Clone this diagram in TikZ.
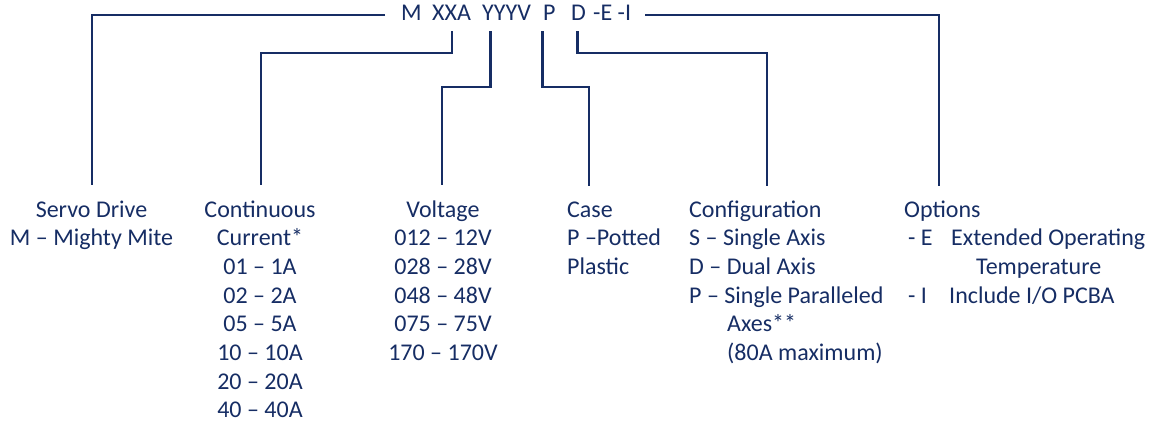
\documentclass[tikz,border=0pt]{standalone}
\usepackage{fontspec}
\setmainfont{Carlito}
\newcommand\diafont{\fontsize{24}{28.7}\selectfont}
\definecolor{navy}{RGB}{22,45,100}
\tikzset{
  lbl/.style={anchor=base, inner sep=0pt, text=navy, font=\diafont},
  lblL/.style={anchor=base west, inner sep=0pt, text=navy, font=\diafont},
  conn/.style={draw=navy, line width=2.2pt, line join=miter},
}
\begin{document}
\begin{tikzpicture}[x=1pt,y=-1pt]
\useasboundingbox (0,0) rectangle (1160,425);
% code
\node[lblL] (M) at (401,21) {M};
\node[lblL] (XXA) at (432,21) {XXA};
\node[lblL] (YYYV) at (482,21) {YYYV};
\node[lblL] (P) at (543,21) {P};
\node[lblL] (D) at (571,21) {D};
\node[lblL] (EI) at (593,21) {-E -I};
% end coordinates
\coordinate (servoEnd) at (92,185);
\coordinate (curEnd) at (261,185);
\coordinate (voltEnd) at (442,185);
\coordinate (caseEnd) at (589,186);
\coordinate (confEnd) at (767,186);
\coordinate (optEnd) at (939,186);
% connectors
\draw[conn] (M.base west) ++(-16,-6) -| (servoEnd);
\draw[conn] ([yshift=-10pt]XXA.south) -- ++(0,22) -| (curEnd);
\draw[conn] ([xshift=-16pt,yshift=-10pt]YYYV.south) -- ++(0,56) -| (voltEnd);
\draw[conn] ([xshift=-7pt,yshift=-10pt]P.south) -- ++(0,56) -| (caseEnd);
\draw[conn] ([xshift=-1pt,yshift=-10pt]D.south) -- ++(0,22) -| (confEnd);
\draw[conn] (EI.base east) ++(14,-6) -| (optEnd);
% Servo drive
\node[lbl] (s1) at (91.5,217) {Servo Drive};
\node[lbl] (s2) at (91.5,245.7) {M – Mighty Mite};
% Current
\node[lbl] (c1) at (260,217) {Continuous};
\node[lbl] (c2) at (260,245.7) {Current*};
\node[lbl] (c3) at (260,274.4) {01 – 1A};
\node[lbl] (c4) at (260,303.1) {02 – 2A};
\node[lbl] (c5) at (260,331.8) {05 – 5A};
\node[lbl] (c6) at (260,360.5) {10 – 10A};
\node[lbl] (c7) at (260,389.2) {20 – 20A};
\node[lbl] (c8) at (260,417.9) {40 – 40A};
% Voltage
\node[lbl] (v1) at (443,217) {Voltage};
\node[lbl] (v2) at (443,245.7) {012 – 12V};
\node[lbl] (v3) at (443,274.4) {028 – 28V};
\node[lbl] (v4) at (443,303.1) {048 – 48V};
\node[lbl] (v5) at (443,331.8) {075 – 75V};
\node[lbl] (v6) at (443,360.5) {170 – 170V};
% Case
\node[lblL] (k1) at (567,217) {Case};
\node[lblL] (k2) at (567,245.7) {P –Potted};
\node[lblL] (k3) at (567,274.4) {Plastic};
% Configuration
\node[lblL] (g1) at (689,217) {Configuration};
\node[lblL] (g2) at (689,245.7) {S – Single Axis};
\node[lblL] (g3) at (689,274.4) {D – Dual Axis};
\node[lblL] (g4) at (689,303.1) {P – Single Paralleled};
\node[lblL] (g5) at (727,331.8) {Axes**};
\node[lblL] (g6) at (727,360.5) {(80A maximum)};
% Options
\node[lblL] (o1) at (904,217) {Options};
\node[lblL] (o2) at (908,245.7) {- E};
\node[lblL] (o3) at (951,245.7) {Extended Operating};
\node[lblL] (o4) at (976,274.4) {Temperature};
\node[lblL] (o5) at (908,303.1) {- I};
\node[lblL] (o6) at (949,303.1) {Include I/O PCBA};
\end{tikzpicture}
\end{document}
